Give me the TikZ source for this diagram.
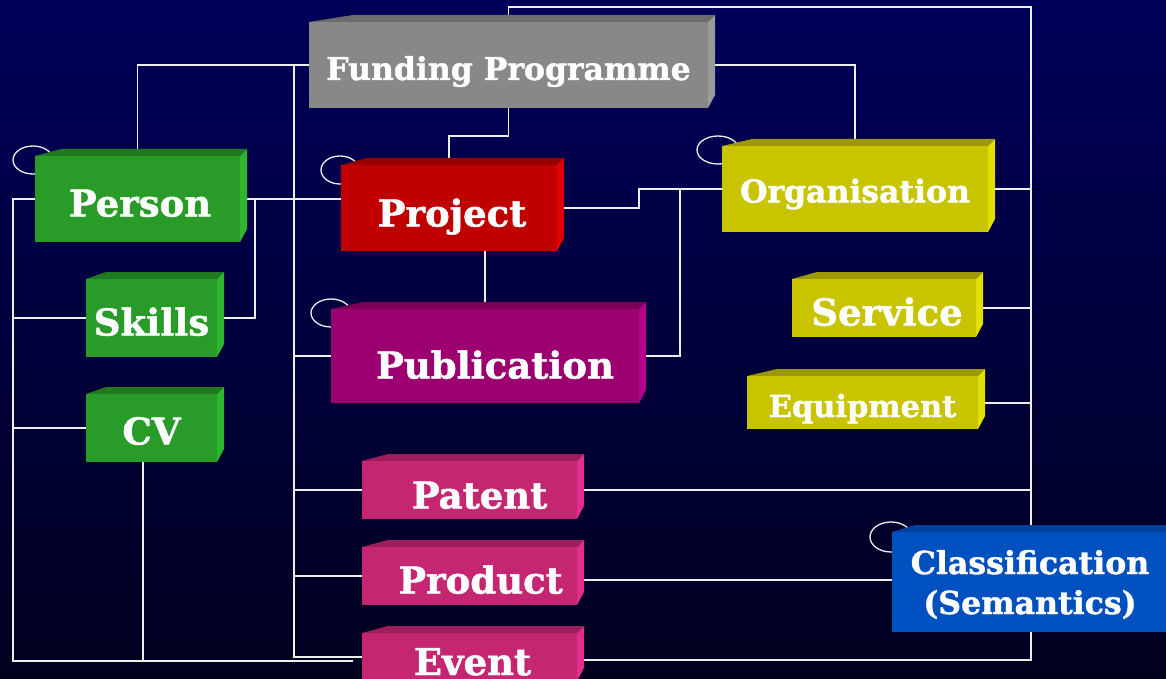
\documentclass[tikz,border=0pt]{standalone}
\usepackage{fontspec}
\setmainfont{DejaVu Serif}[BoldFeatures={FakeBold=1.3}]
\pgfdeclarelayer{bgl}
\pgfdeclarelayer{wires}
\pgfsetlayers{bgl,wires,main}
\definecolor{grF}{HTML}{289B28}\definecolor{grT}{HTML}{1F7A1F}\definecolor{grS}{HTML}{2FB52F}
\definecolor{rdF}{HTML}{C00000}\definecolor{rdT}{HTML}{990000}\definecolor{rdS}{HTML}{E00000}
\definecolor{gyF}{HTML}{888888}\definecolor{gyT}{HTML}{6C6C6C}\definecolor{gyS}{HTML}{9A9A9A}
\definecolor{ylF}{HTML}{C8C400}\definecolor{ylT}{HTML}{9C9800}\definecolor{ylS}{HTML}{E2E000}
\definecolor{puF}{HTML}{9C0070}\definecolor{puT}{HTML}{7A0056}\definecolor{puS}{HTML}{B4008A}
\definecolor{pkF}{HTML}{C42672}\definecolor{pkT}{HTML}{9C1E5A}\definecolor{pkS}{HTML}{E02E8A}
\definecolor{blF}{HTML}{0050C0}\definecolor{blT}{HTML}{0040A0}\definecolor{blS}{HTML}{0060E0}
\definecolor{bgTop}{HTML}{00005A}\definecolor{bgBot}{HTML}{00001E}
\definecolor{wirec}{HTML}{EEEEEE}
\newcommand\fbig{\bfseries\fontsize{37}{40}\selectfont}
\newcommand\fmid{\bfseries\fontsize{31.5}{36}\selectfont}
\newcommand\fsm{\bfseries\fontsize{30.5}{34}\selectfont}
\newcommand\fcl{\bfseries\fontsize{31.6}{40}\selectfont}
\newcommand\cubebox[9]{%
  \fill[#6T] (#2,#3) -- ++(#7,-7) -- ({#4+7},{#3-7}) -- (#4,#3) -- cycle;
  \fill[#6S] (#4,#3) -- ({#4+7},{#3-7}) -- ({#4+7},{#5-13}) -- (#4,#5) -- cycle;
  \node[box, fill=#6F, minimum width={#4-#2}, minimum height={#5-#3}, #8] (#1) at ({(#2+#4)/2},{(#3+#5)/2}) {#9};
}
\tikzset{
  box/.style={rectangle, inner sep=0pt, text=white, text depth=0pt},
  wire/.style={draw=wirec, line width=1.7pt},
  loopc/.style={draw=wirec, line width=1.3pt}
}
\begin{document}
\begin{tikzpicture}[x=1pt,y=-1pt]
\useasboundingbox (0,0) rectangle (1166,679);
\clip (0,0) rectangle (1166,679);
\begin{pgfonlayer}{bgl}
\shade[top color=bgTop, bottom color=bgBot] (0,0) rectangle (1166,679);
\end{pgfonlayer}
% boxes
\cubebox{funding}{309}{22}{708}{108}{gy}{44}{font=\fmid, text height=30pt}{Funding Programme}
\cubebox{person}{35}{156}{240}{242}{gr}{26}{font=\fbig, text height=35pt}{\hspace*{5pt}Person}
\cubebox{project}{341}{165}{557}{251}{rd}{26}{font=\fbig, text height=37pt}{\hspace*{6pt}Project}
\cubebox{organisation}{722}{146}{988}{232}{yl}{30}{font=\fmid, text height=27pt}{Organisation}
\cubebox{service}{792}{279}{976}{337}{yl}{25}{font=\fbig, text height=35pt}{\hspace*{6pt}Service}
\cubebox{equipment}{747}{376}{978}{429}{yl}{30}{font=\fsm, text height=29pt}{Equipment}
\cubebox{skills}{86}{279}{217}{357}{gr}{20}{font=\fbig, text height=35pt}{Skills}
\cubebox{cv}{86}{394}{217}{462}{gr}{20}{font=\fbig, text height=33pt}{CV}
\cubebox{publication}{331}{309}{639}{403}{pu}{32}{font=\fbig, text height=45pt}{\hspace*{20pt}Publication}
\cubebox{patent}{362}{461}{577}{519}{pk}{26}{font=\fbig, text height=37pt}{\hspace*{20pt}Patent}
\cubebox{product}{362}{547}{577}{605}{pk}{26}{font=\fbig, text height=35pt}{\hspace*{22pt}Product}
\cubebox{event}{362}{633}{577}{681}{pk}{26}{font=\fbig, text height=36pt}{\hspace*{6pt}Event}
\cubebox{classification}{892}{532}{1168}{632}{bl}{23}{font=\fcl, align=center}{Classification\\(Semantics)}
% helper coordinates
\coordinate (busL) at (13,0);
\coordinate (busM) at (294,0);
\coordinate (busR) at (1031,0);
\coordinate (topR) at (1031,7);
\coordinate (botR) at (1031,660);
\coordinate (botL) at (13,661);
\coordinate (botLend) at (353,661);
\coordinate (midTop) at (294,65);
\coordinate (fpy) at (0,136);
\coordinate (jog) at (639,0);
\coordinate (pubx) at (680,0);
\coordinate (sk) at (255,0);
\begin{pgfonlayer}{wires}
% self loops
\draw[loopc] (33,160) ellipse [x radius=20pt, y radius=14pt];
\draw[loopc] (340,170) ellipse [x radius=19pt, y radius=14pt];
\draw[loopc] (718,150) ellipse [x radius=21pt, y radius=14pt];
\draw[loopc] (331,313) ellipse [x radius=20pt, y radius=14pt];
\draw[loopc] (891,537) ellipse [x radius=21pt, y radius=15pt];
% connectors
\draw[wire] (funding.west) -| (person.north);
\draw[wire] (midTop) |- (event.west);
\draw[wire] (publication.west) -- (publication.west -| busM);
\draw[wire] (patent.west) -- (patent.west -| busM);
\draw[wire] (product.west) -- (product.west -| busM);
\draw[wire] (person.east) -- (person.east -| project.west);
\draw[wire] (skills.east) -| (sk |- person.east);
\draw[wire] (person.west) -| (botL) -- (botLend);
\draw[wire] (skills.west) -- (skills.west -| busL);
\draw[wire] (cv.west) -- (cv.west -| busL);
\draw[wire] ([xshift=-8.5pt]cv.south) -- ([xshift=-8.5pt]cv.south |- botL);
\draw[wire] (funding.south) -- (funding.south |- fpy) -| (project.north);
\draw[wire] (funding.north) |- (topR) -- (botR) -- (event.east |- botR);
\draw[wire] (funding.east) -| (organisation.north);
\draw[wire] (project.east) -- (project.east -| jog) |- (organisation.west);
\draw[wire] (publication.east) -| (pubx |- organisation.west);
\draw[wire] ([xshift=36pt]project.south) -- ([xshift=36pt]project.south |- publication.north);
\draw[wire] (organisation.east) -- (organisation.east -| busR);
\draw[wire] (service.east) -- (service.east -| busR);
\draw[wire] ([yshift=-0.5pt]equipment.east) -- ([yshift=-0.5pt]equipment.east -| busR);
\draw[wire] (patent.east) -- (patent.east -| busR);
\draw[wire] ([yshift=-4pt]product.east) -- ([yshift=-4pt]product.east -| classification.west);
\end{pgfonlayer}
\end{tikzpicture}
\end{document}
